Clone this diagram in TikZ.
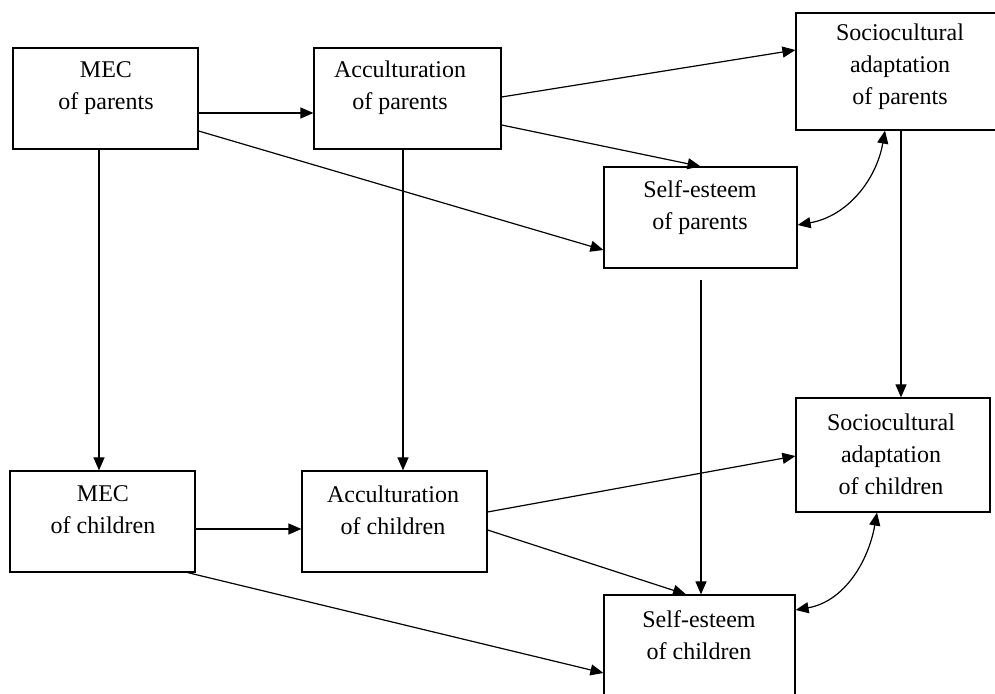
\documentclass[tikz,border=0pt]{standalone}
\usepackage{fontspec}
\setmainfont{Liberation Serif}
\usetikzlibrary{arrows.meta}
\begin{document}
\begin{tikzpicture}[x=1pt,y=1pt,
  box/.style={draw, line width=1.2pt, inner sep=0pt},
  lbl/.style={align=center, inner sep=0pt, font=\fontsize{24}{32}\selectfont},
  tip/.style={Triangle[length=13pt,width=11pt]},
  conn/.style={line width=1.2pt, -{Triangle[length=13pt,width=11pt]}},
  biconn/.style={line width=1.2pt, {Triangle[length=13pt,width=11pt]}-{Triangle[length=13pt,width=11pt]}}]
\useasboundingbox (0,0) rectangle (995,693);
\clip (0,0) rectangle (995,693);
% boxes
\node[box, minimum width=185pt, minimum height=101pt] (mp) at (105.5,594.5) {};
\node[box, minimum width=187pt, minimum height=101pt] (ap) at (407.5,594.5) {};
\node[box, minimum width=208pt, minimum height=117pt] (sp) at (900,621.5) {};
\node[box, minimum width=193pt, minimum height=101pt] (ep) at (700.5,475.5) {};
\node[box, minimum width=185pt, minimum height=101pt] (mc) at (102.5,171.5) {};
\node[box, minimum width=185pt, minimum height=101pt] (ac) at (394.5,171.5) {};
\node[box, minimum width=194pt, minimum height=114pt] (sc) at (893,238) {};
\node[box, minimum width=191pt, minimum height=125pt] (ec) at (699.5,35.5) {};
% labels
\node[lbl] (mpt) at (106,605) {MEC\\of parents};
\node[lbl] (apt) at (400,605) {Acculturation\\of parents};
\node[lbl] (spt) at (900,626) {Sociocultural\\adaptation\\of parents};
\node[lbl] (ept) at (700,485) {Self-esteem\\of parents};
\node[lbl] (mct) at (103,183) {MEC\\of children};
\node[lbl] (act) at (393,183) {Acculturation\\of children};
\node[lbl] (sct) at (891,239) {Sociocultural\\adaptation\\of children};
\node[lbl] (ect) at (699,58) {Self-esteem\\of children};
% connectors
\draw[conn] ([yshift=-14.5pt]mp.east) -- ([yshift=-14.5pt]ap.west);
\draw[conn] ([yshift=-32.5pt]mp.east) -- ([yshift=-32.5pt]ep.west);
\draw[conn] ([xshift=-6.5pt]mp.south) -- ([xshift=-3.5pt]mc.north);
\draw[conn] ([xshift=-4.5pt]ap.south) -- ([xshift=8.5pt]ac.north);
\draw[conn] ([yshift=1.5pt]ap.east) -- ([yshift=21.5pt]sp.west);
\draw[conn] ([yshift=-26.5pt]ap.east) -- (ep.north);
\draw[conn] ([xshift=1pt]sp.south) -- ([xshift=8pt]sc.north);
\draw[biconn] ([yshift=-7.5pt]ep.east) to[out=10,in=-100] ([xshift=-15pt]sp.south);
\draw[conn] ([xshift=0.5pt,yshift=-11pt]ep.south) -- ([xshift=1.5pt]ec.north);
\draw[conn] ([yshift=-7.5pt]mc.east) -- ([yshift=-7.5pt]ac.west);
\draw[conn] ([xshift=-8pt]mc.south east) -- ([yshift=-15.5pt]ec.west);
\draw[conn] ([yshift=9.5pt]ac.east) -- ([yshift=-1pt]sc.west);
\draw[conn] ([yshift=-8.5pt]ac.east) -- ([xshift=-13.5pt]ec.north);
\draw[biconn] ([yshift=47.5pt]ec.east) to[out=10,in=-100] ([xshift=-16pt]sc.south);
\end{tikzpicture}
\end{document}
